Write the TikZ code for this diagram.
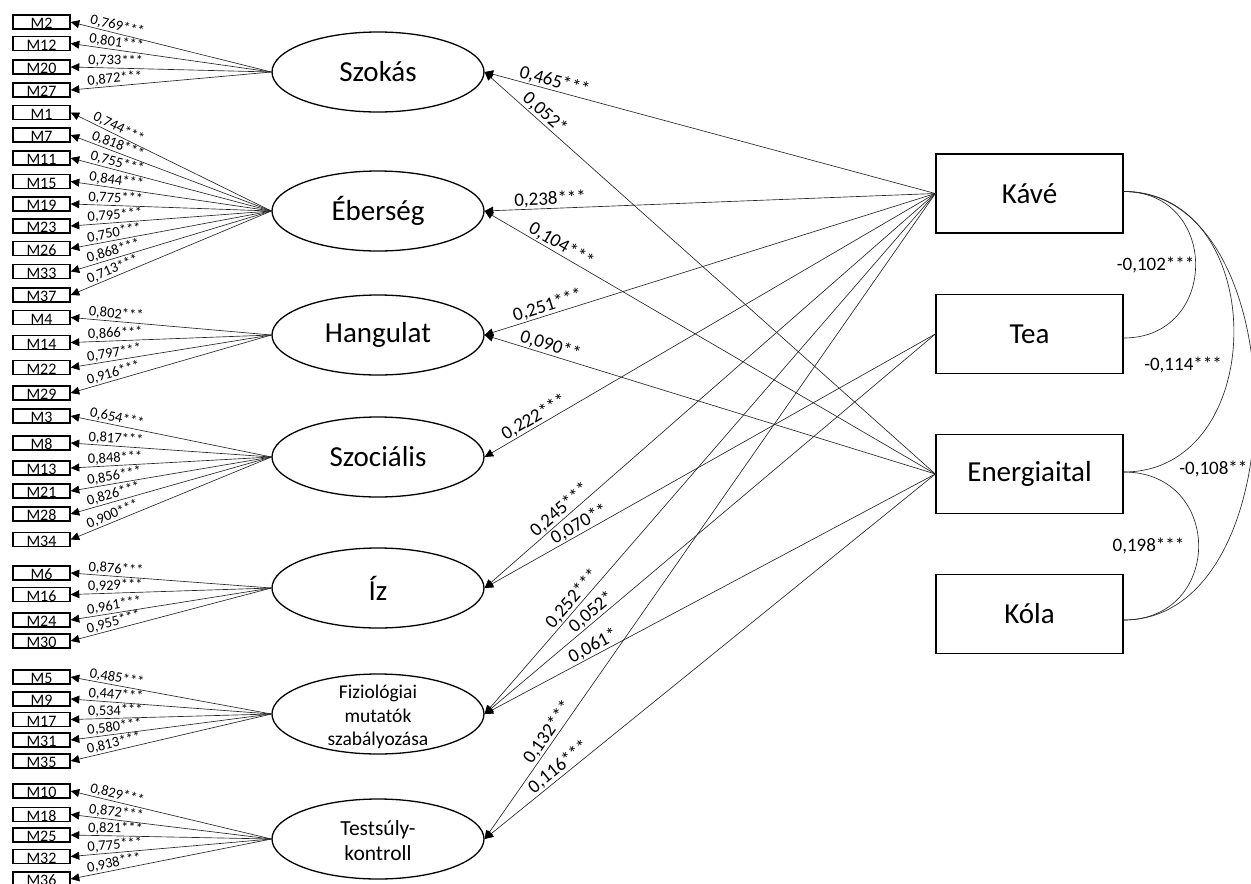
\documentclass[tikz,border=0pt]{standalone}
\usepackage{fontspec}
\setmainfont{Carlito}
\usetikzlibrary{shapes.geometric,arrows.meta}
\begin{document}
\begin{tikzpicture}[x=1pt,y=-1pt,
  ell/.style={ellipse, draw, line width=1.3pt, minimum width=212pt, minimum height=80pt, inner sep=0pt, font=\fontsize{29}{34}\selectfont},
  mbox/.style={rectangle, draw, line width=1.5pt, minimum width=57pt, minimum height=14pt, inner sep=0pt, text height=13pt, text depth=0pt, font=\fontsize{16}{16}\selectfont},
  obs/.style={rectangle, draw, line width=1.3pt, minimum width=187pt, minimum height=79pt, inner sep=0pt, font=\fontsize{29}{34}\selectfont},
  load/.style={line width=0.65pt, draw=black!85, -{Triangle[length=8.5pt,width=8pt,color=black,fill=black]}},
  reg/.style={line width=0.65pt, draw=black!85, -{Triangle[length=8.5pt,width=8pt,color=black,fill=black]}},
  lbl/.style={sloped, above, inner sep=1pt, pos=0.777, font=\fontsize{14.5}{16}\selectfont},
  plbl/.style={sloped, above, inner sep=1pt, font=\fontsize{19}{22}\selectfont},
  cov/.style={line width=0.65pt, draw=black!85},
  clbl/.style={inner sep=1pt, font=\fontsize{19}{22}\selectfont}
]
\useasboundingbox (0,0) rectangle (1251,884);

% latent variables
\node[ell] (szokas) at (378,72) {Szokás};
\node[ell] (eberseg) at (378,211) {Éberség};
\node[ell] (hangulat) at (378,335) {Hangulat};
\node[ell] (szocialis) at (378,457) {Szociális};
\node[ell] (iz) at (378,588) {Íz};
\node[ell, label={[align=center, inner sep=0pt, yshift=-3pt, font=\fontsize{19.5}{23.5}\selectfont]center:Fiziológiai\\mutatók\\szabályozása}] (fizio) at (378,714) {};
\node[ell, label={[align=center, inner sep=0pt, yshift=-2pt, font=\fontsize{21.5}{25}\selectfont]center:Testsúly-\\kontroll}] (testsuly) at (378,839) {};

% observed
\node[obs] (kave) at (1029.5,193.5) {Kávé};
\node[obs] (tea) at (1029.5,334) {Tea};
\node[obs] (energia) at (1029.5,474) {Energiaital};
\node[obs] (kola) at (1029.5,614) {Kóla};

% indicators
\foreach \n/\y/\v in {2/22/769,12/43.5/801,20/67/733,27/90/872}{
  \node[mbox] (m\n) at (41.5,\y) {M\n};
  \draw[load] (szokas.west) -- node[lbl]{0,\v***} (m\n.east);
}
\foreach \n/\y/\v in {1/112.5/744,7/135/818,11/158/755,15/181.5/844,19/204/775,23/226/795,26/248.5/750,33/271.5/868,37/295/713}{
  \node[mbox] (m\n) at (41.5,\y) {M\n};
  \draw[load] (eberseg.west) -- node[lbl]{0,\v***} (m\n.east);
}
\foreach \n/\y/\v in {4/317.5/802,14/342.5/866,22/367.5/797,29/393/916}{
  \node[mbox] (m\n) at (41.5,\y) {M\n};
  \draw[load] (hangulat.west) -- node[lbl]{0,\v***} (m\n.east);
}
\foreach \n/\y/\v in {3/416/654,8/443/817,13/468/848,21/491/856,28/514/826,34/539.5/900}{
  \node[mbox] (m\n) at (41.5,\y) {M\n};
  \draw[load] (szocialis.west) -- node[lbl]{0,\v***} (m\n.east);
}
\foreach \n/\y/\v in {6/573/876,16/594.5/929,24/620/961,30/641/955}{
  \node[mbox] (m\n) at (41.5,\y) {M\n};
  \draw[load] (iz.west) -- node[lbl]{0,\v***} (m\n.east);
}
\foreach \n/\y/\v in {5/677/485,9/699/447,17/719.5/534,31/740/580,35/761/813}{
  \node[mbox] (m\n) at (41.5,\y) {M\n};
  \draw[load] (fizio.west) -- node[lbl]{0,\v***} (m\n.east);
}
\foreach \n/\y/\v in {10/791/829,18/814.5/872,25/835/821,32/856.5/775,36/879/938}{
  \node[mbox] (m\n) at (41.5,\y) {M\n};
  \draw[load] (testsuly.west) -- node[lbl]{0,\v***} (m\n.east);
}

% structural paths
\draw[reg] (kave.west) -- node[plbl,pos=.85]{0,465***} (szokas.east);
\draw[reg] (energia.west) -- node[plbl,pos=.88]{0,052*} (szokas.east);
\draw[reg] (kave.west) -- node[plbl,pos=.854]{0,238***} (eberseg.east);
\draw[reg] (energia.west) -- node[plbl,pos=.84]{0,104***} (eberseg.east);
\draw[reg] (kave.west) -- node[plbl,pos=.854]{0,251***} (hangulat.east);
\draw[reg] (energia.west) -- node[plbl,pos=.86]{0,090**} (hangulat.east);
\draw[reg] (kave.west) -- node[plbl,pos=.88]{0,222***} (szocialis.east);
\draw[reg] (kave.west) -- node[plbl,pos=.82]{0,245***} (iz.east);
\draw[reg] (tea.west) -- node[plbl,pos=.78]{0,070**} (iz.east);
\draw[reg] (kave.west) -- node[plbl,pos=.79]{0,252***} (fizio.east);
\draw[reg] (tea.west) -- node[plbl,pos=.75]{0,052*} (fizio.east);
\draw[reg] (energia.west) -- node[plbl,pos=.75]{0,061*} (fizio.east);
\draw[reg] (kave.west) -- node[plbl,pos=.843]{0,132***} (testsuly.east);
\draw[reg] (energia.west) -- node[plbl,pos=.823]{0,116***} (testsuly.east);

% covariances
\draw[cov] ([yshift=2pt]kave.east) .. controls +(96,0) and +(96,0) .. ([yshift=-4pt]tea.east) node[clbl,pos=.5,anchor=east]{-0,102***};
\draw[cov] ([yshift=2pt]kave.east) .. controls +(147,0) and +(147,0) .. ([yshift=2pt]energia.east) node[clbl,pos=.58,anchor=east,inner sep=1pt,xshift=-8pt]{-0,114***};
\draw[cov] ([yshift=2pt]kave.east) .. controls +(175,0) and +(175,0) .. ([yshift=-6pt]kola.east) node[clbl,pos=.6,anchor=east,inner sep=2pt]{-0,108**};
\draw[cov] ([yshift=2pt]energia.east) .. controls +(100,0) and +(100,0) .. ([yshift=-6pt]kola.east) node[clbl,pos=.5,anchor=east,xshift=-13pt]{0,198***};
\end{tikzpicture}
\end{document}
